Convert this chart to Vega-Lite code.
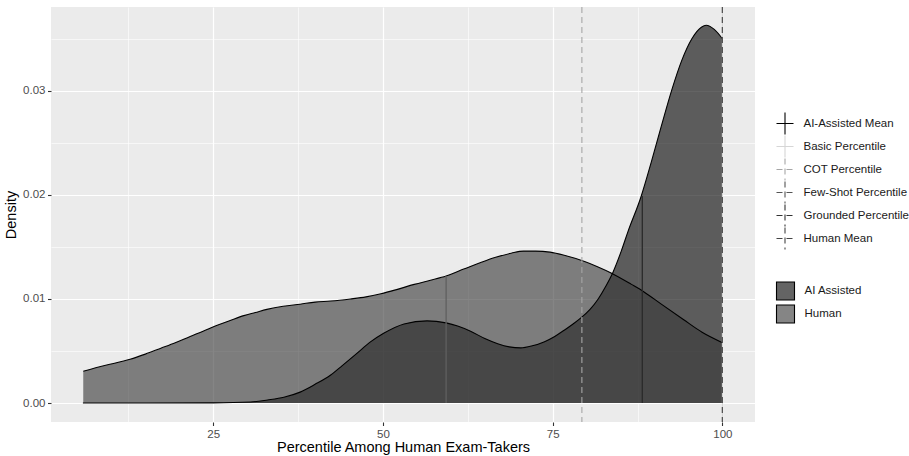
{
  "$schema": "https://vega.github.io/schema/vega-lite/v6.json",
  "width": 704,
  "height": 415,
  "autosize": {"type": "none"},
  "padding": {"left": 51, "top": 7, "right": 154, "bottom": 34},
  "background": "white",
  "datasets": {
    "density": [
      {"group": "AI Assisted", "pct": 5.8, "density": 0.0},
      {"group": "AI Assisted", "pct": 15, "density": 0.0},
      {"group": "AI Assisted", "pct": 25, "density": 0.00002},
      {"group": "AI Assisted", "pct": 30.5, "density": 0.0001},
      {"group": "AI Assisted", "pct": 33, "density": 0.0003},
      {"group": "AI Assisted", "pct": 35.4, "density": 0.00056},
      {"group": "AI Assisted", "pct": 37.8, "density": 0.00105},
      {"group": "AI Assisted", "pct": 40, "density": 0.0018},
      {"group": "AI Assisted", "pct": 42.3, "density": 0.0027},
      {"group": "AI Assisted", "pct": 44, "density": 0.0036},
      {"group": "AI Assisted", "pct": 46.2, "density": 0.0048},
      {"group": "AI Assisted", "pct": 48, "density": 0.0058},
      {"group": "AI Assisted", "pct": 50.1, "density": 0.0067},
      {"group": "AI Assisted", "pct": 53.1, "density": 0.0076},
      {"group": "AI Assisted", "pct": 56.5, "density": 0.0079},
      {"group": "AI Assisted", "pct": 59.3, "density": 0.0077},
      {"group": "AI Assisted", "pct": 61, "density": 0.0074},
      {"group": "AI Assisted", "pct": 62.9, "density": 0.0069},
      {"group": "AI Assisted", "pct": 65, "density": 0.0062},
      {"group": "AI Assisted", "pct": 66.9, "density": 0.0057},
      {"group": "AI Assisted", "pct": 68.6, "density": 0.0054},
      {"group": "AI Assisted", "pct": 70.3, "density": 0.0053},
      {"group": "AI Assisted", "pct": 72, "density": 0.0055},
      {"group": "AI Assisted", "pct": 73.8, "density": 0.0059},
      {"group": "AI Assisted", "pct": 75.3, "density": 0.0064},
      {"group": "AI Assisted", "pct": 76.7, "density": 0.007},
      {"group": "AI Assisted", "pct": 78, "density": 0.0076},
      {"group": "AI Assisted", "pct": 79.2, "density": 0.0082},
      {"group": "AI Assisted", "pct": 80.5, "density": 0.009},
      {"group": "AI Assisted", "pct": 81.7, "density": 0.01},
      {"group": "AI Assisted", "pct": 82.8, "density": 0.0112},
      {"group": "AI Assisted", "pct": 83.9, "density": 0.0126},
      {"group": "AI Assisted", "pct": 85.1, "density": 0.0146},
      {"group": "AI Assisted", "pct": 86.1, "density": 0.0165},
      {"group": "AI Assisted", "pct": 88, "density": 0.0198},
      {"group": "AI Assisted", "pct": 89.5, "density": 0.0231},
      {"group": "AI Assisted", "pct": 91, "density": 0.0266},
      {"group": "AI Assisted", "pct": 92.5, "density": 0.03},
      {"group": "AI Assisted", "pct": 94, "density": 0.0329},
      {"group": "AI Assisted", "pct": 95.5, "density": 0.035},
      {"group": "AI Assisted", "pct": 96.9, "density": 0.0361},
      {"group": "AI Assisted", "pct": 97.6, "density": 0.0363},
      {"group": "AI Assisted", "pct": 98.8, "density": 0.0359},
      {"group": "AI Assisted", "pct": 100, "density": 0.035},
      {"group": "Human", "pct": 5.85, "density": 0.00305},
      {"group": "Human", "pct": 9, "density": 0.0036},
      {"group": "Human", "pct": 12.75, "density": 0.0042},
      {"group": "Human", "pct": 15, "density": 0.0047},
      {"group": "Human", "pct": 17.2, "density": 0.00525},
      {"group": "Human", "pct": 19.4, "density": 0.0058},
      {"group": "Human", "pct": 21.6, "density": 0.0064},
      {"group": "Human", "pct": 23.5, "density": 0.0069},
      {"group": "Human", "pct": 25.3, "density": 0.0074},
      {"group": "Human", "pct": 27.4, "density": 0.0079},
      {"group": "Human", "pct": 29.5, "density": 0.0084},
      {"group": "Human", "pct": 31.2, "density": 0.0087},
      {"group": "Human", "pct": 32.9, "density": 0.009},
      {"group": "Human", "pct": 35.3, "density": 0.0093},
      {"group": "Human", "pct": 37.8, "density": 0.0095},
      {"group": "Human", "pct": 40, "density": 0.0097},
      {"group": "Human", "pct": 42.3, "density": 0.0098},
      {"group": "Human", "pct": 45.2, "density": 0.01},
      {"group": "Human", "pct": 47.5, "density": 0.0102},
      {"group": "Human", "pct": 49.7, "density": 0.0105},
      {"group": "Human", "pct": 52, "density": 0.0109},
      {"group": "Human", "pct": 54.6, "density": 0.0114},
      {"group": "Human", "pct": 57, "density": 0.0118},
      {"group": "Human", "pct": 59.3, "density": 0.0122},
      {"group": "Human", "pct": 62, "density": 0.0129},
      {"group": "Human", "pct": 64.4, "density": 0.0135},
      {"group": "Human", "pct": 66.6, "density": 0.014},
      {"group": "Human", "pct": 68.9, "density": 0.0144},
      {"group": "Human", "pct": 70.7, "density": 0.0146},
      {"group": "Human", "pct": 72.5, "density": 0.0146},
      {"group": "Human", "pct": 74.6, "density": 0.0145},
      {"group": "Human", "pct": 76.7, "density": 0.0142},
      {"group": "Human", "pct": 79.7, "density": 0.0136},
      {"group": "Human", "pct": 81.6, "density": 0.0131},
      {"group": "Human", "pct": 83.6, "density": 0.0125},
      {"group": "Human", "pct": 86.6, "density": 0.0114},
      {"group": "Human", "pct": 88.4, "density": 0.0107},
      {"group": "Human", "pct": 91, "density": 0.0095},
      {"group": "Human", "pct": 94.3, "density": 0.008},
      {"group": "Human", "pct": 97, "density": 0.0068},
      {"group": "Human", "pct": 100, "density": 0.0058}
    ],
    "refs": [
      {"line": "Basic Percentile", "pct": 100},
      {"line": "COT Percentile", "pct": 79.3},
      {"line": "Grounded Percentile", "pct": 100},
      {"line": "Few-Shot Percentile", "pct": 100}
    ],
    "means": [
      {"group": "Human", "pct": 59.3, "density": 0.0122, "base": 0},
      {"group": "AI Assisted", "pct": 88.2, "density": 0.0199, "base": 0}
    ]
  },
  "layer": [
    {
      "data": {"name": "density"},
      "mark": {"type": "point", "opacity": 0},
      "encoding": {
        "x": {"field": "pct", "type": "quantitative", "scale": {"domain": [1.1, 104.8], "nice": false, "zero": false},
          "axis": {"values": [12.5, 37.5, 62.5, 87.5], "labels": false, "ticks": false, "domain": false, "title": null, "gridWidth": 0.6, "orient": "top"}},
        "y": {"field": "density", "type": "quantitative", "scale": {"domain": [-0.00182, 0.03805], "nice": false, "zero": false},
          "axis": {"values": [0.005, 0.015, 0.025, 0.035], "labels": false, "ticks": false, "domain": false, "title": null, "gridWidth": 0.6, "orient": "right"}}
      }
    },
    {
      "data": {"name": "density"},
      "transform": [{"filter": "datum.group === 'AI Assisted'"}],
      "mark": {"type": "area", "fillOpacity": 0.62, "interpolate": "monotone"},
      "encoding": {
        "x": {"field": "pct", "type": "quantitative",
          "axis": {"orient": "bottom", "values": [25, 50, 75, 100], "title": "Percentile Among Human Exam-Takers", "grid": true, "labelFlush": false, "titlePadding": 1, "labelColor": "#4D4D4D"}},
        "y": {"field": "density", "type": "quantitative", "stack": null,
          "axis": {"orient": "left", "values": [0, 0.01, 0.02, 0.03], "format": ".2f", "title": "Density", "grid": true, "titlePadding": 4, "labelColor": "#4D4D4D"}},
        "fill": {"field": "group", "type": "nominal",
          "scale": {"domain": ["AI Assisted", "Human"], "range": ["#050505", "#3a3a3a"]},
          "legend": {"title": null, "orient": "none", "legendX": 724.5, "legendY": 274, "symbolType": "square", "symbolSize": 324, "rowPadding": -1,
            "symbolStrokeColor": "#000000", "symbolStrokeWidth": 1.1, "labelOffset": 9,
            "encode": {"symbols": {"update": {"fillOpacity": {"value": 0.62}}}}}}
      }
    },
    {
      "data": {"name": "density"},
      "transform": [{"filter": "datum.group === 'Human'"}],
      "mark": {"type": "area", "fillOpacity": 0.62, "interpolate": "monotone"},
      "encoding": {
        "x": {"field": "pct", "type": "quantitative", "axis": null},
        "y": {"field": "density", "type": "quantitative", "stack": null, "axis": null},
        "fill": {"field": "group", "type": "nominal"}
      }
    },
    {
      "data": {"name": "density"},
      "mark": {"type": "line", "color": "#000000", "strokeWidth": 1.1, "interpolate": "monotone"},
      "encoding": {
        "x": {"field": "pct", "type": "quantitative", "axis": null},
        "y": {"field": "density", "type": "quantitative", "axis": null},
        "detail": {"field": "group", "type": "nominal"}
      }
    },
    {
      "data": {"name": "means"},
      "transform": [{"filter": "datum.group === 'Human'"}],
      "mark": {"type": "rule", "color": "#606060", "strokeWidth": 1.3},
      "encoding": {
        "x": {"field": "pct", "type": "quantitative", "axis": null},
        "y": {"field": "density", "type": "quantitative", "axis": null},
        "y2": {"field": "base"}
      }
    },
    {
      "data": {"name": "means"},
      "transform": [{"filter": "datum.group === 'AI Assisted'"}],
      "mark": {"type": "rule", "color": "#2a2a2a", "strokeWidth": 1.3},
      "encoding": {
        "x": {"field": "pct", "type": "quantitative", "axis": null},
        "y": {"field": "density", "type": "quantitative", "axis": null},
        "y2": {"field": "base"}
      }
    },
    {
      "data": {"name": "refs"},
      "mark": {"type": "rule", "strokeWidth": 1.1},
      "encoding": {
        "x": {"field": "pct", "type": "quantitative", "axis": null},
        "color": {"field": "line", "type": "nominal",
          "scale": {"domain": ["AI-Assisted Mean", "Basic Percentile", "COT Percentile", "Few-Shot Percentile", "Grounded Percentile", "Human Mean"],
            "range": ["#000000", "#d6d6d6", "#a6a6a6", "#555555", "#333333", "#444444"]},
          "legend": {"title": null, "orient": "none", "legendX": 724.5, "legendY": 107, "symbolType": "M0,-1.3L0,1.3M-1,0L1,0", "symbolSize": 289, "rowPadding": -5, "symbolStrokeWidth": 1.1, "labelOffset": 9}},
        "strokeDash": {"field": "line", "type": "nominal",
          "scale": {"domain": ["AI-Assisted Mean", "Basic Percentile", "COT Percentile", "Few-Shot Percentile", "Grounded Percentile", "Human Mean"],
            "range": [[1, 0], [1, 0], [6, 4], [6, 4], [6, 4], [6, 4]]}}
      }
    }
  ],
  "resolve": {"axis": {"x": "independent", "y": "independent"}},
  "config": {
    "font": "Liberation Sans",
    "view": {"fill": "#EBEBEB", "stroke": null},
    "axis": {
      "domain": false,
      "tickColor": "#333333",
      "tickSize": 3.5,
      "tickWidth": 1.1,
      "labelColor": "#4D4D4D",
      "labelFont": "Liberation Sans",
      "labelFontSize": 11.5,
      "labelPadding": 2.5,
      "titleFont": "Liberation Sans",
      "titleFontSize": 14.5,
      "titleFontWeight": "normal",
      "titleColor": "#000000",
      "gridColor": "#FFFFFF",
      "gridWidth": 1.2,
      "gridOpacity": 1
    },
    "legend": {
      "labelFont": "Liberation Sans",
      "labelFontSize": 11.5,
      "labelColor": "#1A1A1A",
      "padding": 0
    }
  }
}
